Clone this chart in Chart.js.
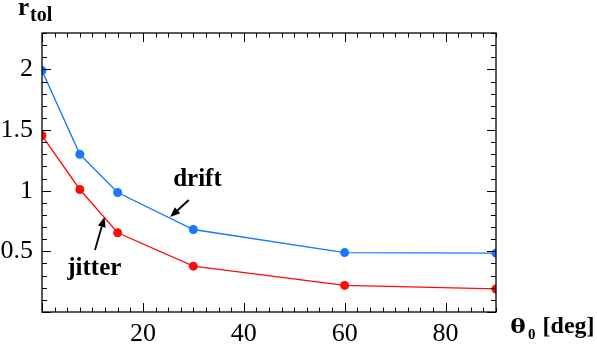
<!DOCTYPE html>
<html>
<head>
<meta charset="utf-8">
<script src="https://cdn.jsdelivr.net/npm/chart.js@4/dist/chart.umd.min.js"></script>
<style>
html,body{margin:0;padding:0;background:#fff;}
#wrap{width:597px;height:354px;position:relative;}
</style>
</head>
<body>
<div id="wrap"><canvas id="c" width="597" height="354"></canvas></div>
<script>
// ---- data ----
const theta = [0, 7.5, 15, 30, 60, 90];
const drift = [1.99, 1.30, 0.985, 0.68, 0.49, 0.485];
const jitter = [1.455, 1.01, 0.653, 0.378, 0.219, 0.19];
const xTickLabels = [20, 40, 60, 80];
const yTickLabels = [0.5, 1, 1.5, 2];
const xMajorTicks = [0, 20, 40, 60, 80];
const yMajorTicks = [0, 0.5, 1, 1.5, 2];
const xMinorStep = 2.5;
const yMinorStep = 0.1;
// annotations in data units
const driftLabel = {text: 'drift', x: 26, y: 1.04};
const jitterLabel = {text: 'jitter', x: 5, y: 0.305};
const driftArrow = {from: [29.1, 0.923], to: [25.4, 0.783]};
const jitterArrow = {from: [10.5, 0.511], to: [12.4, 0.783]};

const BLUE = 'rgb(25,118,255)';
const RED = 'rgb(255,10,10)';
const SERIF = '"Liberation Serif", "Times New Roman", serif';

const framePlugin = {
  id: 'frame',
  afterDatasetsDraw(chart) {
    const {ctx, chartArea: a, scales: {x, y}} = chart;
    ctx.save();
    ctx.strokeStyle = '#000';
    ctx.lineWidth = 1.3;
    ctx.strokeRect(a.left, a.top, a.right - a.left, a.bottom - a.top);
    ctx.beginPath();
    ctx.lineWidth = 1;
    const near = (v, arr) => arr.some(m => Math.abs(m - v) < 1e-6);
    for (let v = x.min; v <= x.max + 1e-9; v += xMinorStep) {
      const px = Math.round(x.getPixelForValue(v)) + 0.5;
      const L = near(v, xMajorTicks) ? 9 : 4.5;
      ctx.moveTo(px, a.bottom); ctx.lineTo(px, a.bottom - L);
      ctx.moveTo(px, a.top); ctx.lineTo(px, a.top + L);
    }
    for (let i = 0; ; i++) {
      const v = +(y.min + i * yMinorStep).toFixed(6);
      if (v > y.max + 1e-9) break;
      const py = Math.round(y.getPixelForValue(v)) + 0.5;
      const L = near(v, yMajorTicks) ? 9 : 5;
      ctx.moveTo(a.left, py); ctx.lineTo(a.left + L, py);
      ctx.moveTo(a.right, py); ctx.lineTo(a.right - L, py);
    }
    ctx.stroke();

    // annotations
    ctx.fillStyle = '#000';
    ctx.font = 'bold 25px ' + SERIF;
    ctx.textBaseline = 'alphabetic';
    ctx.textAlign = 'left';
    for (const lab of [driftLabel, jitterLabel]) {
      ctx.fillText(lab.text, x.getPixelForValue(lab.x), y.getPixelForValue(lab.y));
    }
    for (const ar of [driftArrow, jitterArrow]) {
      const x0 = x.getPixelForValue(ar.from[0]), y0 = y.getPixelForValue(ar.from[1]);
      const x1 = x.getPixelForValue(ar.to[0]), y1 = y.getPixelForValue(ar.to[1]);
      const ang = Math.atan2(y1 - y0, x1 - x0);
      const hl = 10, hw = 4;
      const bx = x1 - hl * Math.cos(ang), by = y1 - hl * Math.sin(ang);
      ctx.beginPath();
      ctx.lineWidth = 1.8;
      ctx.moveTo(x0, y0); ctx.lineTo(bx, by);
      ctx.stroke();
      ctx.beginPath();
      ctx.moveTo(x1, y1);
      ctx.lineTo(bx + hw * Math.sin(ang), by - hw * Math.cos(ang));
      ctx.lineTo(bx - hw * Math.sin(ang), by + hw * Math.cos(ang));
      ctx.closePath();
      ctx.fill();
    }

    // axis titles
    ctx.font = 'bold 25px ' + SERIF;
    ctx.fillText('r', 18, 15);
    ctx.font = 'bold 20px ' + SERIF;
    ctx.fillText('tol', 30, 21);

    let tx = a.right + 14;
    ctx.save();
    ctx.font = 'bold 22px ' + SERIF;
    ctx.translate(tx, 333);
    ctx.scale(1.4, 1);
    ctx.fillText('θ', 0, 0);
    const tw = ctx.measureText('θ').width * 1.4;
    ctx.restore();
    tx += tw + 2;
    ctx.font = 'bold 15px ' + SERIF;
    ctx.fillText('0', tx, 339);
    tx += ctx.measureText('0').width + 7;
    ctx.font = 'bold 24px ' + SERIF;
    ctx.fillText('[deg]', tx, 333);
    ctx.restore();
  }
};

new Chart(document.getElementById('c'), {
  type: 'line',
  data: {
    datasets: [
      {label: 'drift', data: theta.map((t, i) => ({x: t, y: drift[i]})),
       borderColor: BLUE, backgroundColor: BLUE, borderWidth: 1.3,
       pointRadius: 4.5, pointBorderWidth: 0, pointHoverRadius: 4.5, tension: 0},
      {label: 'jitter', data: theta.map((t, i) => ({x: t, y: jitter[i]})),
       borderColor: RED, backgroundColor: RED, borderWidth: 1.3,
       pointRadius: 4.5, pointBorderWidth: 0, pointHoverRadius: 4.5, tension: 0}
    ]
  },
  options: {
    responsive: false,
    animation: false,
    devicePixelRatio: 1,
    layout: {padding: {top: 33, right: 101, left: 0, bottom: 0}},
    plugins: {legend: {display: false}, tooltip: {enabled: false}, title: {display: false}},
    events: [],
    scales: {
      x: {
        type: 'linear', min: 0, max: 90,
        afterBuildTicks: s => { s.ticks = xTickLabels.map(v => ({value: v})); },
        afterFit: s => { s.height = 42; },
        grid: {display: false, drawTicks: false},
        border: {display: false},
        ticks: {font: {family: SERIF, size: 26}, color: '#000', padding: 7, maxRotation: 0, autoSkip: false,
                callback: v => String(v)}
      },
      y: {
        type: 'linear', min: 0, max: 2.3,
        afterBuildTicks: s => { s.ticks = yTickLabels.map(v => ({value: v})); },
        afterFit: s => { s.width = 42; },
        grid: {display: false, drawTicks: false},
        border: {display: false},
        ticks: {font: {family: SERIF, size: 26}, color: '#000', padding: 9, autoSkip: false,
                callback: v => String(v)}
      }
    }
  },
  plugins: [framePlugin]
});
</script>
</body>
</html>
